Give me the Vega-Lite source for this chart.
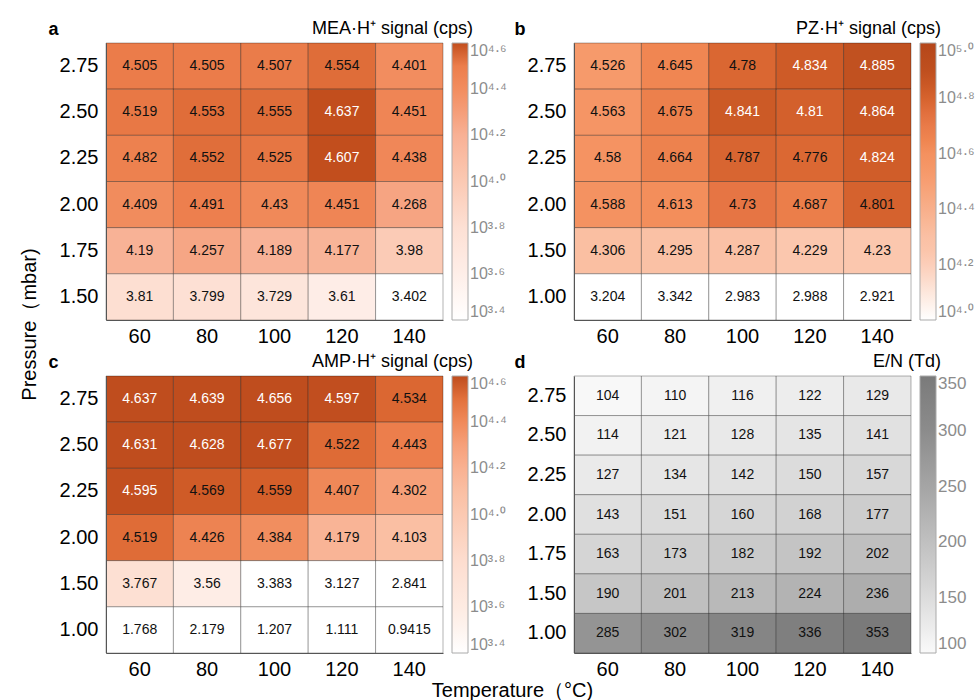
{
  "$schema": "https://vega.github.io/schema/vega-lite/v6.json",
  "padding": {"left": 19, "top": 20, "right": 0, "bottom": 0},
  "background": "white",
  "config": {
    "font": "Liberation Sans",
    "view": {"stroke": null},
    "axis": {"grid": false, "ticks": false, "labelColor": "#000", "labelFontSize": 20, "domainColor": "#555", "domainWidth": 1, "labelFont": "Liberation Sans"},
    "legend": {"labelBaseline": "middle", "labelColor": "#8c8c8c", "labelFontSize": 16, "gradientStrokeColor": "#aaa", "gradientStrokeWidth": 1, "gradientLength": 277, "gradientThickness": 16, "offset": 9, "labelOffset": 4}
  },
  "datasets": {
    "mea": [
      {"T": 60, "p": "2.75", "v": 4.505}, {"T": 80, "p": "2.75", "v": 4.505}, {"T": 100, "p": "2.75", "v": 4.507}, {"T": 120, "p": "2.75", "v": 4.554}, {"T": 140, "p": "2.75", "v": 4.401},
      {"T": 60, "p": "2.50", "v": 4.519}, {"T": 80, "p": "2.50", "v": 4.553}, {"T": 100, "p": "2.50", "v": 4.555}, {"T": 120, "p": "2.50", "v": 4.637}, {"T": 140, "p": "2.50", "v": 4.451},
      {"T": 60, "p": "2.25", "v": 4.482}, {"T": 80, "p": "2.25", "v": 4.552}, {"T": 100, "p": "2.25", "v": 4.525}, {"T": 120, "p": "2.25", "v": 4.607}, {"T": 140, "p": "2.25", "v": 4.438},
      {"T": 60, "p": "2.00", "v": 4.409}, {"T": 80, "p": "2.00", "v": 4.491}, {"T": 100, "p": "2.00", "v": 4.43}, {"T": 120, "p": "2.00", "v": 4.451}, {"T": 140, "p": "2.00", "v": 4.268},
      {"T": 60, "p": "1.75", "v": 4.19}, {"T": 80, "p": "1.75", "v": 4.257}, {"T": 100, "p": "1.75", "v": 4.189}, {"T": 120, "p": "1.75", "v": 4.177}, {"T": 140, "p": "1.75", "v": 3.98},
      {"T": 60, "p": "1.50", "v": 3.81}, {"T": 80, "p": "1.50", "v": 3.799}, {"T": 100, "p": "1.50", "v": 3.729}, {"T": 120, "p": "1.50", "v": 3.61}, {"T": 140, "p": "1.50", "v": 3.402}
    ],
    "pz": [
      {"T": 60, "p": "2.75", "v": 4.526}, {"T": 80, "p": "2.75", "v": 4.645}, {"T": 100, "p": "2.75", "v": 4.78}, {"T": 120, "p": "2.75", "v": 4.834}, {"T": 140, "p": "2.75", "v": 4.885},
      {"T": 60, "p": "2.50", "v": 4.563}, {"T": 80, "p": "2.50", "v": 4.675}, {"T": 100, "p": "2.50", "v": 4.841}, {"T": 120, "p": "2.50", "v": 4.81}, {"T": 140, "p": "2.50", "v": 4.864},
      {"T": 60, "p": "2.25", "v": 4.58}, {"T": 80, "p": "2.25", "v": 4.664}, {"T": 100, "p": "2.25", "v": 4.787}, {"T": 120, "p": "2.25", "v": 4.776}, {"T": 140, "p": "2.25", "v": 4.824},
      {"T": 60, "p": "2.00", "v": 4.588}, {"T": 80, "p": "2.00", "v": 4.613}, {"T": 100, "p": "2.00", "v": 4.73}, {"T": 120, "p": "2.00", "v": 4.687}, {"T": 140, "p": "2.00", "v": 4.801},
      {"T": 60, "p": "1.50", "v": 4.306}, {"T": 80, "p": "1.50", "v": 4.295}, {"T": 100, "p": "1.50", "v": 4.287}, {"T": 120, "p": "1.50", "v": 4.229}, {"T": 140, "p": "1.50", "v": 4.23},
      {"T": 60, "p": "1.00", "v": 3.204}, {"T": 80, "p": "1.00", "v": 3.342}, {"T": 100, "p": "1.00", "v": 2.983}, {"T": 120, "p": "1.00", "v": 2.988}, {"T": 140, "p": "1.00", "v": 2.921}
    ],
    "amp": [
      {"T": 60, "p": "2.75", "v": 4.637}, {"T": 80, "p": "2.75", "v": 4.639}, {"T": 100, "p": "2.75", "v": 4.656}, {"T": 120, "p": "2.75", "v": 4.597}, {"T": 140, "p": "2.75", "v": 4.534},
      {"T": 60, "p": "2.50", "v": 4.631}, {"T": 80, "p": "2.50", "v": 4.628}, {"T": 100, "p": "2.50", "v": 4.677}, {"T": 120, "p": "2.50", "v": 4.522}, {"T": 140, "p": "2.50", "v": 4.443},
      {"T": 60, "p": "2.25", "v": 4.595}, {"T": 80, "p": "2.25", "v": 4.569}, {"T": 100, "p": "2.25", "v": 4.559}, {"T": 120, "p": "2.25", "v": 4.407}, {"T": 140, "p": "2.25", "v": 4.302},
      {"T": 60, "p": "2.00", "v": 4.519}, {"T": 80, "p": "2.00", "v": 4.426}, {"T": 100, "p": "2.00", "v": 4.384}, {"T": 120, "p": "2.00", "v": 4.179}, {"T": 140, "p": "2.00", "v": 4.103},
      {"T": 60, "p": "1.50", "v": 3.767}, {"T": 80, "p": "1.50", "v": 3.56}, {"T": 100, "p": "1.50", "v": 3.383}, {"T": 120, "p": "1.50", "v": 3.127}, {"T": 140, "p": "1.50", "v": 2.841},
      {"T": 60, "p": "1.00", "v": 1.768}, {"T": 80, "p": "1.00", "v": 2.179}, {"T": 100, "p": "1.00", "v": 1.207}, {"T": 120, "p": "1.00", "v": 1.111}, {"T": 140, "p": "1.00", "v": 0.9415}
    ],
    "en": [
      {"T": 60, "p": "2.75", "v": 104}, {"T": 80, "p": "2.75", "v": 110}, {"T": 100, "p": "2.75", "v": 116}, {"T": 120, "p": "2.75", "v": 122}, {"T": 140, "p": "2.75", "v": 129},
      {"T": 60, "p": "2.50", "v": 114}, {"T": 80, "p": "2.50", "v": 121}, {"T": 100, "p": "2.50", "v": 128}, {"T": 120, "p": "2.50", "v": 135}, {"T": 140, "p": "2.50", "v": 141},
      {"T": 60, "p": "2.25", "v": 127}, {"T": 80, "p": "2.25", "v": 134}, {"T": 100, "p": "2.25", "v": 142}, {"T": 120, "p": "2.25", "v": 150}, {"T": 140, "p": "2.25", "v": 157},
      {"T": 60, "p": "2.00", "v": 143}, {"T": 80, "p": "2.00", "v": 151}, {"T": 100, "p": "2.00", "v": 160}, {"T": 120, "p": "2.00", "v": 168}, {"T": 140, "p": "2.00", "v": 177},
      {"T": 60, "p": "1.75", "v": 163}, {"T": 80, "p": "1.75", "v": 173}, {"T": 100, "p": "1.75", "v": 182}, {"T": 120, "p": "1.75", "v": 192}, {"T": 140, "p": "1.75", "v": 202},
      {"T": 60, "p": "1.50", "v": 190}, {"T": 80, "p": "1.50", "v": 201}, {"T": 100, "p": "1.50", "v": 213}, {"T": 120, "p": "1.50", "v": 224}, {"T": 140, "p": "1.50", "v": 236},
      {"T": 60, "p": "1.00", "v": 285}, {"T": 80, "p": "1.00", "v": 302}, {"T": 100, "p": "1.00", "v": 319}, {"T": 120, "p": "1.00", "v": 336}, {"T": 140, "p": "1.00", "v": 353}
    ]
  },
  "title": {"text": "Pressure（mbar)", "orient": "left", "anchor": "middle", "fontSize": 20, "fontWeight": "normal", "offset": 8, "dx": 36, "color": "#000"},
  "vconcat": [
    {
      "title": {"text": "Temperature（°C)", "orient": "bottom", "anchor": "middle", "fontSize": 20, "fontWeight": "normal", "offset": 2, "dx": 1, "color": "#000"},
      "spacing": 7,
      "vconcat": [
        {
          "spacing": 7,
          "hconcat": [
            {
              "width": 337, "height": 277,
              "data": {"name": "mea"},
              "title": {"text": "MEA·H⁺ signal (cps)", "anchor": "end", "frame": "group", "dx": 30, "fontSize": 18, "fontWeight": "normal", "offset": -18},
              "encoding": {
                "x": {"field": "T", "type": "ordinal", "axis": {"title": null, "labelAngle": 0, "labelPadding": 6}},
                "y": {"field": "p", "type": "ordinal", "sort": "descending", "axis": {"title": "a", "titleAngle": 0, "titleX": -58, "titleY": -9, "titleAlign": "left", "titleBaseline": "alphabetic", "titleFontSize": 18, "titleFontWeight": "bold", "labelPadding": 8}}
              },
              "layer": [
                {"mark": {"type": "rect", "stroke": "#000", "strokeOpacity": 0.3, "strokeWidth": 1},
                 "encoding": {"color": {"field": "v", "type": "quantitative",
                   "scale": {"domain": [3.4, 3.6, 3.8, 4.0, 4.2, 4.3, 4.4, 4.5, 4.56, 4.6], "range": ["#ffffff", "#feeee8", "#fde0d4", "#fbc9b3", "#f8b195", "#f59e79", "#f28d5f", "#ec7e4c", "#de6b37", "#c24e1d"], "clamp": true, "interpolate": "rgb"},
                   "legend": {"title": null, "values": [3.4, 3.6, 3.8, 4.0, 4.2, 4.4, 4.6], "labelExpr": "'10' + '⁰¹²³⁴⁵⁶⁷⁸⁹'[floor(datum.value + 0.0001)] + '·' + '⁰¹²³⁴⁵⁶⁷⁸⁹'[round(datum.value * 10) % 10]"}}}},
                {"mark": {"type": "text", "fontSize": 14},
                 "encoding": {"text": {"field": "v", "type": "nominal"}, "color": {"condition": {"test": "datum.v > 4.6", "value": "#ffffff"}, "value": "#111111"}}}
              ]
            },
            {
              "width": 337, "height": 277,
              "data": {"name": "pz"},
              "title": {"text": "PZ·H⁺ signal (cps)", "anchor": "end", "frame": "group", "dx": 30, "fontSize": 18, "fontWeight": "normal", "offset": -18},
              "encoding": {
                "x": {"field": "T", "type": "ordinal", "axis": {"title": null, "labelAngle": 0, "labelPadding": 6}},
                "y": {"field": "p", "type": "ordinal", "sort": "descending", "axis": {"title": "b", "titleAngle": 0, "titleX": -60, "titleY": -9, "titleAlign": "left", "titleBaseline": "alphabetic", "titleFontSize": 18, "titleFontWeight": "bold", "labelPadding": 8}}
              },
              "layer": [
                {"mark": {"type": "rect", "stroke": "#000", "strokeOpacity": 0.3, "strokeWidth": 1},
                 "encoding": {"color": {"field": "v", "type": "quantitative",
                   "scale": {"domain": [4.0, 4.23, 4.3, 4.53, 4.6, 4.65, 4.73, 4.78, 4.83, 4.89, 5.0], "range": ["#ffffff", "#fbc7ae", "#fac0a4", "#f6996a", "#f4915f", "#ef8550", "#e67544", "#da6732", "#cf5c28", "#c0501f", "#b5461a"], "clamp": true, "interpolate": "rgb"},
                   "legend": {"title": null, "values": [4.0, 4.2, 4.4, 4.6, 4.8, 5.0], "labelExpr": "'10' + '⁰¹²³⁴⁵⁶⁷⁸⁹'[floor(datum.value + 0.0001)] + '·' + '⁰¹²³⁴⁵⁶⁷⁸⁹'[round(datum.value * 10) % 10]"}}}},
                {"mark": {"type": "text", "fontSize": 14},
                 "encoding": {"text": {"field": "v", "type": "nominal"}, "color": {"condition": {"test": "datum.v > 4.805", "value": "#ffffff"}, "value": "#111111"}}}
              ]
            }
          ],
          "resolve": {"scale": {"color": "independent", "y": "independent", "x": "independent"}}
        },
        {
          "spacing": 7,
          "hconcat": [
            {
              "width": 337, "height": 277,
              "data": {"name": "amp"},
              "title": {"text": "AMP·H⁺ signal (cps)", "anchor": "end", "frame": "group", "dx": 30, "fontSize": 18, "fontWeight": "normal", "offset": -18},
              "encoding": {
                "x": {"field": "T", "type": "ordinal", "axis": {"title": null, "labelAngle": 0, "labelPadding": 6}},
                "y": {"field": "p", "type": "ordinal", "sort": "descending", "axis": {"title": "c", "titleAngle": 0, "titleX": -58, "titleY": -9, "titleAlign": "left", "titleBaseline": "alphabetic", "titleFontSize": 18, "titleFontWeight": "bold", "labelPadding": 8}}
              },
              "layer": [
                {"mark": {"type": "rect", "stroke": "#000", "strokeOpacity": 0.3, "strokeWidth": 1},
                 "encoding": {"color": {"field": "v", "type": "quantitative",
                   "scale": {"domain": [3.4, 3.56, 3.77, 4.1, 4.18, 4.3, 4.4, 4.44, 4.52, 4.56, 4.6], "range": ["#ffffff", "#feede6", "#fde0d3", "#fabfa3", "#f9b496", "#f6a07a", "#f08a5a", "#ec7f4d", "#df6c37", "#d45f2a", "#bf4d1e"], "clamp": true, "interpolate": "rgb"},
                   "legend": {"title": null, "values": [3.4, 3.6, 3.8, 4.0, 4.2, 4.4, 4.6], "labelExpr": "'10' + '⁰¹²³⁴⁵⁶⁷⁸⁹'[floor(datum.value + 0.0001)] + '·' + '⁰¹²³⁴⁵⁶⁷⁸⁹'[round(datum.value * 10) % 10]"}}}},
                {"mark": {"type": "text", "fontSize": 14},
                 "encoding": {"text": {"field": "v", "type": "nominal"}, "color": {"condition": {"test": "datum.v > 4.58", "value": "#ffffff"}, "value": "#111111"}}}
              ]
            },
            {
              "width": 337, "height": 277,
              "data": {"name": "en"},
              "title": {"text": "E/N (Td)", "anchor": "end", "frame": "group", "dx": 30, "fontSize": 18, "fontWeight": "normal", "offset": -18},
              "encoding": {
                "x": {"field": "T", "type": "ordinal", "axis": {"title": null, "labelAngle": 0, "labelPadding": 6}},
                "y": {"field": "p", "type": "ordinal", "sort": "descending", "axis": {"title": "d", "titleAngle": 0, "titleX": -60, "titleY": -9, "titleAlign": "left", "titleBaseline": "alphabetic", "titleFontSize": 18, "titleFontWeight": "bold", "labelPadding": 8}}
              },
              "layer": [
                {"mark": {"type": "rect", "stroke": "#000", "strokeOpacity": 0.3, "strokeWidth": 1},
                 "encoding": {"color": {"field": "v", "type": "quantitative",
                   "scale": {"domain": [100, 150, 200, 250, 300, 350], "range": ["#fafafa", "#dcdcdc", "#c0c0c0", "#a5a5a5", "#8c8c8c", "#7a7a7a"], "clamp": true, "interpolate": "rgb"},
                   "legend": {"title": null, "values": [100, 150, 200, 250, 300, 350], "labelFontSize": 17}}}},
                {"mark": {"type": "text", "fontSize": 14},
                 "encoding": {"text": {"field": "v", "type": "nominal"}, "color": {"value": "#111111"}}}
              ]
            }
          ],
          "resolve": {"scale": {"color": "independent", "y": "independent", "x": "independent"}}
        }
      ],
      "resolve": {"scale": {"color": "independent", "y": "independent", "x": "independent"}}
    }
  ],
  "resolve": {"scale": {"color": "independent", "y": "independent", "x": "independent"}}
}
